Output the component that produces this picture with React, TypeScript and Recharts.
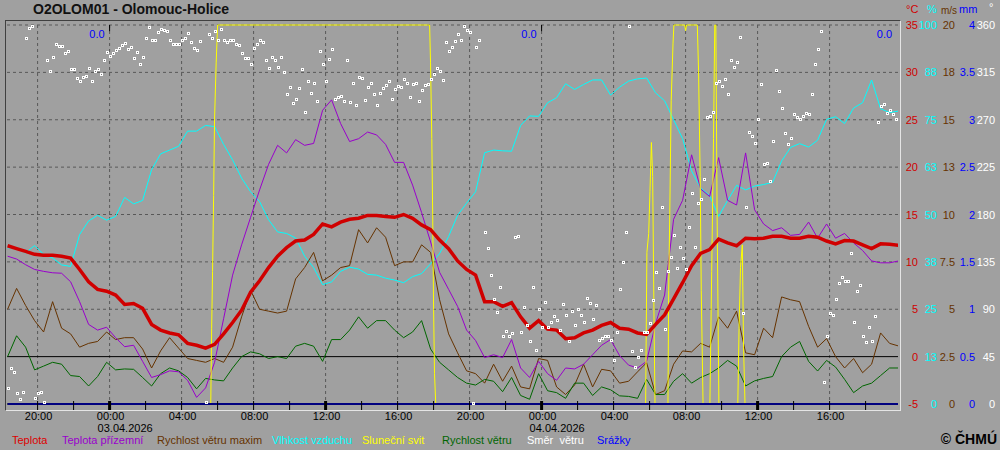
import React from 'react';
import { ComposedChart, Line, Scatter, XAxis, YAxis, CartesianGrid, ReferenceLine } from 'recharts';

// 30-min samples, first one 18:20 on 02.04 (hours relative to 00:00 03.04)
const T0 = -17 / 3;

const TEMP = [
  11.7, 11.4, 11.1, 10.8, 10.7, 10.7, 10.6, 10.4, 9.2, 7.9,
  7.1, 6.9, 6.5, 5.5, 5.6, 5.1, 3.4, 2.8, 2.5, 2.3,
  1.4, 1.2, 0.9, 1.3, 2.4, 3.6, 4.9, 6.8, 8.0, 9.4,
  10.6, 11.5, 12.2, 12.3, 12.9, 14.0, 13.7, 14.2, 14.5, 14.6,
  14.9, 14.9, 14.8, 14.7, 15.0, 14.6, 13.9, 13.4, 12.3, 11.4,
  10.1, 9.2, 8.6, 5.8, 5.8, 5.3, 5.7, 4.2, 3.0, 3.8,
  2.9, 2.8, 1.9, 2.0, 2.5, 2.8, 3.3, 3.6, 3.0, 2.9,
  2.5, 2.35, 3.4, 4.4, 6.1, 7.8, 9.6, 10.9, 11.3, 12.4,
  12.0, 11.7, 12.5, 12.45, 12.5, 12.7, 12.7, 12.5, 12.5, 12.7,
  12.6, 12.2, 11.9, 12.25, 12.2, 11.8, 11.4, 11.9, 11.85, 11.75,
];

const GROUND = [
  10.6, 10.3, 9.7, 9.2, 9.0, 8.85, 8.8, 7.9, 5.8, 3.4,
  2.8, 3.1, 2.0, 1.05, 1.2, -0.5, -2.2, -1.9, -1.5, -1.6,
  -2.5, -4.3, -3.3, -0.6, 4.0, 8.6, 11.8, 14.7, 17.6, 20.3,
  22.3, 21.5, 22.9, 22.3, 22.5, 26.0, 27.1, 24.6, 22.7, 23.0,
  23.7, 23.4, 22.4, 20.5, 20.5, 18.1, 15.2, 12.1, 8.9, 7.1,
  5.3, 2.8, 1.7, -0.1, 0.2, -0.1, 1.8, -1.2, -2.2, -0.5,
  -1.8, -2.5, -1.2, -1.3, -0.8, 0.2, 1.2, 1.8, 0.1, -0.9,
  -1.2, -0.5, 3.5, 6.5, 14.5, 16.5, 21.3, 17.7, 16.9, 21.0,
  16.5, 16.0, 21.5, 15.5, 14.0, 13.3, 13.6, 12.8, 12.9, 14.2,
  12.5, 14.0, 12.5, 13.0, 12.0, 11.2, 10.1, 9.9, 9.9, 10.1,
];

const HUMIDITY = [
  41.2, 41.2, 39.9, 41.8, 39.5, 38.5, 36.7, 36.3, 44.7, 48.3,
  49.8, 48.5, 49.5, 54.5, 52.8, 53.7, 61.8, 66.0, 67.0, 68.0,
  72.0, 72.0, 73.5, 73.2, 68.5, 64.4, 59.6, 56.0, 53.4, 48.6,
  45.4, 45.0, 43.8, 39.0, 36.0, 31.5, 32.2, 35.0, 36.1, 35.6,
  34.2, 34.0, 33.2, 32.7, 32.0, 33.6, 34.4, 37.0, 39.7, 44.2,
  49.8, 53.0, 56.0, 66.3, 67.0, 66.8, 66.7, 73.5, 76.0, 75.9,
  79.5, 80.8, 84.5, 83.0, 84.3, 85.5, 85.5, 81.5, 83.6, 85.2,
  85.8, 86.0, 82.1, 80.0, 75.0, 70.0, 61.5, 57.0, 55.0, 49.5,
  53.7, 57.7, 56.5, 57.5, 57.9, 58.5, 64.1, 67.7, 68.7, 67.8,
  69.6, 75.1, 75.8, 74.0, 78.1, 79.5, 85.5, 77.9, 76.9, 77.3,
];

const GUST = [
  5.0, 6.1, 5.2, 4.4, 3.8, 5.4, 4.0, 3.7, 3.0, 3.2,
  3.3, 3.8, 3.4, 3.5, 3.5, 2.9, 1.9, 2.8, 3.5, 2.95,
  2.4, 2.3, 2.2, 2.4, 2.2, 3.0, 4.6, 6.0, 5.0, 4.9,
  4.8, 4.9, 6.6, 7.2, 8.0, 6.5, 6.8, 7.2, 7.3, 9.2,
  8.5, 9.3, 8.8, 7.3, 7.5, 7.5, 8.4, 8.0, 5.5, 3.7,
  2.7, 1.75, 1.6, 1.1, 2.1, 1.2, 2.0, 0.9, 0.8, 2.4,
  2.3, 0.9, 0.5, 1.0, 2.1, 0.9, 1.83, 1.75, 1.1, 1.2,
  1.7, 2.18, 0.5, 0.7, 2.1, 2.8, 2.75, 3.2, 3.0, 4.6,
  4.0, 4.9, 2.7, 2.6, 4.0, 3.5, 5.65, 5.5, 5.4, 4.1,
  3.0, 3.45, 2.5, 1.9, 2.4, 1.65, 2.1, 3.75, 3.2, 3.06,
];

const WIND = [
  2.5, 3.6, 3.0, 1.8, 2.0, 2.2, 2.1, 1.5, 1.45, 0.95,
  1.45, 2.2, 1.8, 1.85, 1.83, 1.4, 0.95, 1.6, 1.9, 1.75,
  1.4, 0.8, 1.35, 1.27, 1.22, 1.9, 2.5, 2.75, 2.65, 2.4,
  2.5, 2.4, 3.05, 3.2, 3.05, 2.25, 3.4, 3.4, 3.9, 4.6,
  4.0, 4.4, 4.4, 3.9, 3.5, 3.8, 4.4, 2.9, 2.2, 1.8,
  1.4, 1.1, 1.0, 1.3, 1.2, 0.65, 1.4, 0.45, 0.25, 1.6,
  0.7, 0.6, 0.3, 1.1, 1.1, 0.45, 0.9, 0.75, 0.43, 0.4,
  0.3, 1.3, 0.5, 0.5, 1.2, 1.6, 1.1, 1.4, 1.6, 1.9,
  2.3, 2.0, 0.95, 1.22, 1.35, 1.45, 2.5, 3.0, 3.3, 2.25,
  1.74, 2.3, 1.95, 1.3, 0.6, 0.95, 1.1, 1.5, 1.9, 1.9,
];

// wind direction, 10-min samples from 18:20 (null = no square drawn)
const DIRECTION = [
  15, 34, 30, 10, 5, 11, 348, 357, 359, 6,
  10, 11, 2, 327, 316, 330, 342, 340, 340, 333,
  335, 318, 318, 310, 307, 311, 312, 319, 307, 316,
  318, 313, 327, 334, 331, 333, 336, 338, 341, 343,
  337, 339, 329, 334, 323, 330, 348, 358, 346, 346,
  353, 356, 355, 354, 346, 342, 342, 342, 346, 348,
  352, 344, 338, 336, 345, null, 2, 351, 348, 354,
  346, 356, 346, 344, 346, 346, 342, 341, 333, 329,
  329, 323, 338, 342, 346, 344, 327, 319, 330, 327,
  320, 330, 315, 294, 301, 286, 290, 300, 318, 277,
  307, 295, 305, 288, 335, 323, 307, 328, 337, 290,
  292, 293, 288, 327, 287, 305, 284, 311, 310, 289,
  301, 305, 294, 284, 295, 300, 303, 307, 290, 299,
  302, 301, 309, 305, 292, 304, 305, 288, 298, 303,
  304, 309, 313, 319, 316, 308, 344, 335, 339, 345,
  351, 346, 359, 355, 353, 1, 339, 346, null, 163,
  148, 123, 100, 87, 111, 65, 69, 65, 67, 159,
  160, 68, 92, 75, 60, 111, 51, 90, 73, 97,
  73, 78, 84, 80, 70, 95, 85, 60, 88, 75,
  90, 85, 78, 101, 96, 81, 94, 61, 63, 65,
  65, 61, 42, 68, 109, 135, 163, 359, 50, 35,
  45, 51, 68, 68, 77, 99, 125, 110, 187, 71,
  126, 140, 161, 129, 149, 139, 128, 168, 200, 149,
  191, 195, 214, 273, 274, 277, 305, 307, 302, 309,
  294, 327, 320, 325, 349, 86, 187, 258, 255, 248,
  271, 304, 228, 229, 212, 250, 317, 297, 281, 257,
  247, 253, 275, 273, 271, 274, 276, 275, 294, 323,
  337, 354, 21, 65, 86, 85, 100, 115, 121, 117,
  117, 143, 78, 107, 113, 65, 59, 73, 60, 84,
  268, 283, 285, 276, 279, 275, 271, 268,
];

// sunshine (% of interval) at change points
const SUN_HOURS = [
  -5.67, 5.62, 5.67, 5.72, 5.78, 5.83, 5.92, 6.0,
  17.78, 17.83, 17.9, 17.95, 18.0, 18.05, 18.12,
  29.78, 29.85, 29.95, 30.02, 30.1, 30.17, 30.25, 30.3,
  31.02, 31.06, 31.12, 31.2, 31.3, 31.35, 31.95, 32.0, 32.05,
  32.65, 32.72, 32.81, 32.87, 32.97,
  33.35, 33.45, 33.55, 33.62, 33.68, 33.75, 33.85,
  34.9, 34.97, 35.05, 35.15, 35.22, 35.3, 43.83,
];
const SUN_VALUES = [
  0, 0, 20, 35, 55, 75, 90, 100,
  100, 90, 70, 50, 25, 8, 0,
  0, 40, 45, 56, 69, 60, 20, 0,
  0, 30, 50, 80, 95, 100, 100, 98.5, 100,
  100, 88, 60, 30, 0,
  0, 35, 70, 100, 100, 50, 0,
  0, 20, 36, 42, 15, 0, 0,
];

const RAIN_HOURS = [-5.67, 43.83];
const RAIN_VALUES = [0, 0];
const RAIN_DAY_END = [0, 24, 43.75];
const RAIN_DAY_SUM = ['0.0', '0.0', '0.0'];

const TEMP_TICKS = [-5, 0, 5, 10, 15, 20, 25, 30, 35];
const HUM_LABELS = ['0', '13', '25', '38', '50', '63', '75', '88', '100'];
const WIND_LABELS = ['0', '2.5', '5', '7.5', '10', '13', '15', '18', '20'];
const RAIN_LABELS = ['0', '0.5', '1', '1.5', '2', '2.5', '3', '3.5', '4'];
const DIR_LABELS = ['0', '45', '90', '135', '180', '225', '270', '315', '360'];

const TIME_TICKS = [-4, -2, 0, 2, 4, 6, 8, 10, 12, 14, 16, 18, 20, 22, 24, 26, 28, 30, 32, 34, 36, 38, 40, 42];
const DATES = ['03.04.2026', '04.04.2026'];

const LEGEND = [
  { name: 'Teplota', color: '#dd0000' },
  { name: 'Teplota přízemní', color: '#9900cc' },
  { name: 'Rychlost větru maxim', color: '#663300' },
  { name: 'Vlhkost vzduchu', color: '#00ffff' },
  { name: 'Sluneční svit', color: '#ffff00' },
  { name: 'Rychlost větru', color: '#006600' },
  { name: 'Směr  větru', color: '#ffffff' },
  { name: 'Srážky', color: '#0000ff' },
];
const LEGEND_LEFT = [12, 62, 157, 272, 362, 442, 527, 597];

const BG = '#a0a0a0';
const FONT = '"Liberation Sans", Arial, sans-serif';
const C = {
  temp: '#d00000', ground: '#9900cc', gust: '#663300', hum: '#00ffff',
  sun: '#ffff00', wind: '#006600', dir: '#ffffff', rain: '#0000ff',
};

function TimeTick({ x, y, payload }: any) {
  const h = payload.value as number;
  const hh = ((h % 24) + 24) % 24;
  const major = h % 12 === 0;
  return (
    <g>
      <line x1={x} x2={x} y1={y - 3} y2={y + 6} stroke="#000" strokeWidth={major ? 3 : 1} />
      {h % 4 === 0 && (
        <text x={x + 1} y={y + 16} textAnchor="middle" fontSize={11} fill="#000">
          {String(hh).padStart(2, '0') + ':00'}
        </text>
      )}
      {hh === 0 && (
        <text x={x - 12} y={y + 28} fontSize={11} fill="#000">{DATES[h / 24]}</text>
      )}
    </g>
  );
}

function ValueTick({ y, payload }: any) {
  const i = TEMP_TICKS.indexOf(payload.value);
  const cols = [
    { x: 918, c: C.temp, t: String(TEMP_TICKS[i]) },
    { x: 937, c: C.hum, t: HUM_LABELS[i] },
    { x: 955, c: C.gust, t: WIND_LABELS[i] },
    { x: 975, c: C.rain, t: RAIN_LABELS[i] },
    { x: 995, c: C.dir, t: DIR_LABELS[i] },
  ];
  return (
    <g>
      {cols.map((col, k) => (
        <text key={k} x={col.x} y={y + 4} textAnchor="end" fontSize={11} fill={col.c}>{col.t}</text>
      ))}
    </g>
  );
}

function Square({ cx, cy }: any) {
  const x = Math.round(cx);
  const y = Math.round(cy);
  return <rect x={x - 0.5} y={y - 0.5} width={2} height={2} fill="#787878" stroke="#fff" strokeWidth={1} />;
}

export default function App() {
  const main = TEMP.map((t, i) => ({
    h: T0 + i * 0.5, temp: t, ground: GROUND[i], hum: HUMIDITY[i], gust: GUST[i], wind: WIND[i],
  }));
  const sun = SUN_HOURS.map((h, i) => ({ h, v: SUN_VALUES[i] }));
  const rain = RAIN_HOURS.map((h, i) => ({ h, v: RAIN_VALUES[i] }));
  const dirs = DIRECTION.map((v, k) => ({ h: T0 + k / 6, v })).filter((d) => d.v !== null);

  return (
    <div style={{ position: 'relative', width: 1000, height: 450, background: BG, fontFamily: FONT, overflow: 'hidden' }}>
      <style>{'body{margin:0}'}</style>
      <ComposedChart width={1000} height={450} data={main} margin={{ top: 25, right: 2, bottom: 0, left: 7 }}>
        <CartesianGrid
          stroke="#585858"
          strokeDasharray="3 3"
          horizontalValues={[5, 10, 15, 20, 25, 30, 35]}
          verticalValues={[-4, 0, 4, 8, 12, 16, 20, 24, 28, 32, 36, 40]}
        />
        <XAxis
          dataKey="h" type="number" domain={[-5.7, 43.8]} allowDataOverflow
          ticks={TIME_TICKS} interval={0} height={46} tickSize={0} tickMargin={0}
          axisLine={{ stroke: '#000' }} tick={(p: any) => <TimeTick {...p} />}
        />
        <YAxis
          orientation="right" domain={[-5, 35]} ticks={TEMP_TICKS} interval={0} width={100}
          axisLine={false} tickLine={false} tick={(p: any) => <ValueTick {...p} />}
        />
        <YAxis yAxisId="hum" hide domain={[0, 100]} />
        <YAxis yAxisId="wind" hide domain={[0, 20]} />
        <YAxis yAxisId="sun" hide domain={[0, 100]} />
        <YAxis yAxisId="dir" hide domain={[0, 360]} />
        <YAxis yAxisId="rain" hide domain={[0, 4]} />
        <ReferenceLine y={0} stroke="#000" />
        {RAIN_DAY_END.map((h, i) => (
          <ReferenceLine key={'r' + i} x={h} stroke="none"
            label={{ value: RAIN_DAY_SUM[i], position: 'insideTopRight', fill: C.rain, fontSize: 11 }} />
        ))}
        {[0, 24].map((h) => (
          <ReferenceLine key={'d' + h} segment={[{ x: h, y: 35 }, { x: h, y: 34.35 }]} stroke="#000" />
        ))}
        <Line dataKey="hum" yAxisId="hum" stroke={C.hum} strokeWidth={1} dot={false} isAnimationActive={false} />
        <Line dataKey="gust" yAxisId="wind" stroke={C.gust} strokeWidth={1} dot={false} isAnimationActive={false} />
        <Line dataKey="wind" yAxisId="wind" stroke={C.wind} strokeWidth={1} dot={false} isAnimationActive={false} />
        <Line dataKey="ground" stroke={C.ground} strokeWidth={1} dot={false} isAnimationActive={false} />
        <Line data={sun} dataKey="v" yAxisId="sun" stroke={C.sun} strokeWidth={1} dot={false} isAnimationActive={false} />
        <Line dataKey="temp" stroke={C.temp} strokeWidth={3.5} dot={false} isAnimationActive={false} />
        <Scatter data={dirs} dataKey="v" yAxisId="dir" shape={(p: any) => <Square {...p} />} isAnimationActive={false} />
        <Line data={rain} dataKey="v" yAxisId="rain" stroke={C.rain} strokeWidth={2} dot={false} isAnimationActive={false} />
      </ComposedChart>

      <div style={{ position: 'absolute', left: 5, top: 20, width: 896, height: 391, boxSizing: 'border-box',
        borderLeft: '1px solid #404040', borderTop: '1px solid #404040',
        borderRight: '1px solid #e4e4e4', borderBottom: '1px solid #e4e4e4', pointerEvents: 'none' }} />

      <div style={{ position: 'absolute', left: 33, top: 1, fontSize: 14, fontWeight: 'bold', color: '#111' }}>
        O2OLOM01 - Olomouc-Holice
      </div>

      <div style={{ position: 'absolute', top: 3, left: 0, fontSize: 11, lineHeight: '13px' }}>
        <span style={{ position: 'absolute', left: 906, color: C.temp }}>°C</span>
        <span style={{ position: 'absolute', left: 927, color: C.hum }}>%</span>
        <span style={{ position: 'absolute', left: 941, top: 1, fontSize: 10, color: C.gust }}>m/s</span>
        <span style={{ position: 'absolute', left: 959, color: C.rain }}>mm</span>
        <span style={{ position: 'absolute', left: 989, top: -2, color: C.dir }}>°</span>
      </div>

      {LEGEND.map((it, i) => (
        <div key={it.name} style={{ position: 'absolute', left: LEGEND_LEFT[i], top: 434, fontSize: 11,
          color: it.color, whiteSpace: 'pre' }}>
          {it.name}
        </div>
      ))}

      <div style={{ position: 'absolute', right: 3, top: 431, fontSize: 14, fontWeight: 'bold', color: '#000' }}>
        © ČHMÚ
      </div>
    </div>
  );
}
